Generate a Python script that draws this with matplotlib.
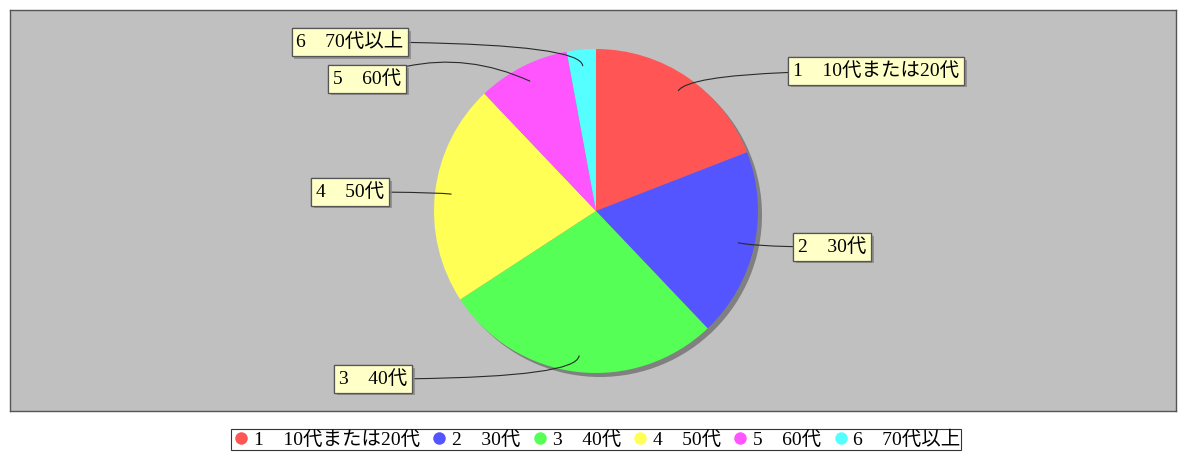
import numpy as np
import matplotlib
matplotlib.use("Agg")
import matplotlib.pyplot as plt
from matplotlib.patches import Circle
from matplotlib.lines import Line2D
import matplotlib.patheffects as pe

plt.rcParams['font.family'] = ['Liberation Serif', 'Noto Sans CJK JP', 'DejaVu Sans']

# ---- data ----
labels = ["1\u300010代または20代", "2\u300030代", "3\u300040代", "4\u300050代", "5\u300060代", "6\u300070代以上"]
values = [19.1, 18.8, 27.9, 22.1, 9.2, 2.9]
colors = ["#FF5555", "#5555FF", "#55FF55", "#FFFF55", "#FF55FF", "#55FFFF"]

# label box centres (axes pixel units) and link styles
label_pos = [(866, 340), (822, 164), (363, 32), (340, 219), (357, 332), (340, 369)]
link_styles = ["angle3,angleA=0,angleB={b}", "angle3,angleA=0,angleB={b}",
               "angle3,angleA=0,angleB={b}", "angle3,angleA=0,angleB={b}",
               "arc3,rad=-0.22", "angle3,angleA=0,angleB={b}"]

W, H = 1179, 453
fig = plt.figure(figsize=(W / 100, H / 100), dpi=100, facecolor="white")
L, R, T, B = 10, 1176, 10, 411
ax = fig.add_axes([L / W, 1 - B / H, (R - L) / W, (B - T) / H])
ax.set_facecolor("#C0C0C0")
ax.set_xticks([]); ax.set_yticks([])
for s in ax.spines.values():
    s.set_color("#555555"); s.set_linewidth(1.0)

cx, cy, rad = 586, 200, 162
ax.add_patch(Circle((cx + 4, cy - 4), rad, facecolor="#808080", edgecolor="none", zorder=1))
wedges, _ = ax.pie(values, colors=colors, startangle=90, counterclock=False,
                   center=(cx, cy), radius=rad, frame=True,
                   wedgeprops=dict(edgecolor="none", zorder=2))
ax.set_xlim(0, R - L)
ax.set_ylim(0, B - T)
ax.set_aspect("equal")

for w, lab, pos, st in zip(wedges, labels, label_pos, link_styles):
    mid = np.deg2rad((w.theta1 + w.theta2) / 2)
    ax_pt = (cx + 0.9 * rad * np.cos(mid), cy + 0.9 * rad * np.sin(mid))
    ang = np.rad2deg(mid) % 360
    cs = st.format(b=ang)
    ann = ax.annotate(lab, xy=ax_pt, xytext=pos, ha="center", va="center",
                      fontsize=14, color="black", zorder=5,
                      bbox=dict(boxstyle="square,pad=0.24", facecolor="#FFFFC8",
                                edgecolor="#555555", linewidth=0.9),
                      arrowprops=dict(arrowstyle="-", color="#2a2a2a", lw=0.8,
                                      connectionstyle=cs, shrinkA=0, shrinkB=0))
    ann.get_bbox_patch().set_path_effects([pe.withSimplePatchShadow(offset=(2, -2), shadow_rgbFace="#888888", alpha=0.8), pe.Normal()])

handles = [Line2D([0], [0], marker="o", linestyle="none", markersize=9,
                  markerfacecolor=c, markeredgecolor="none") for c in colors]
leg = fig.legend(handles, labels, loc="center", bbox_to_anchor=(596 / W, 1 - 439.5 / H),
                 ncol=6, frameon=True, fontsize=14, handletextpad=0.15, columnspacing=0.5,
                 borderpad=0.05, handlelength=1.0, fancybox=False, borderaxespad=0)
leg.get_frame().set_edgecolor("black")
leg.get_frame().set_linewidth(0.8)

fig.savefig("out.png", dpi=100, facecolor="white")
